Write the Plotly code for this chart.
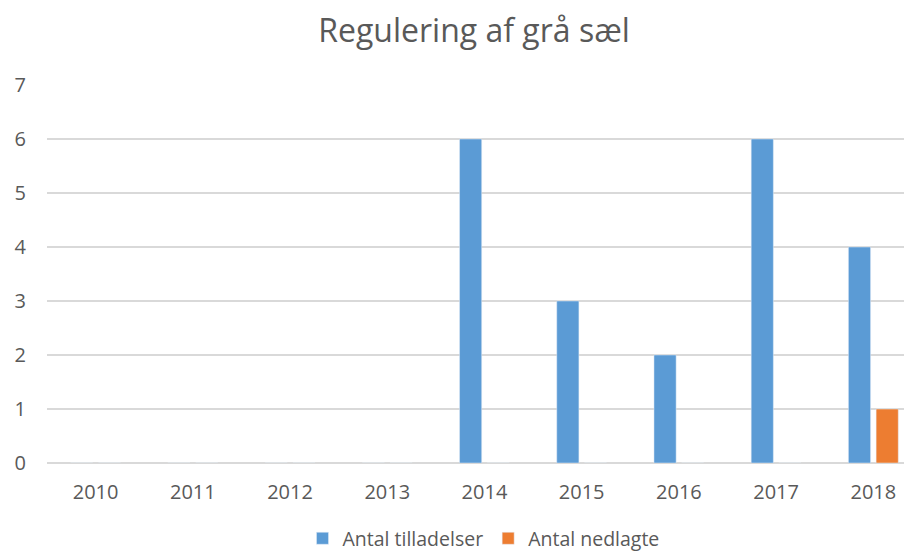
import plotly.graph_objects as go

years = ["2010", "2011", "2012", "2013", "2014", "2015", "2016", "2017", "2018"]
tilladelser = [0, 0, 0, 0, 6, 3, 2, 6, 4]
nedlagte = [0, 0, 0, 0, 0, 0, 0, 0, 1]

font = "'Open Sans', Lato, sans-serif"
grey = "#595959"

fig = go.Figure()
fig.add_trace(go.Bar(x=years, y=tilladelser, name="Antal tilladelser", marker_color="#5B9BD5"))
fig.add_trace(go.Bar(x=years, y=nedlagte, name="Antal nedlagte", marker_color="#ED7D31"))

fig.update_layout(
    width=912, height=558,
    paper_bgcolor="white", plot_bgcolor="white",
    margin=dict(l=39, r=0, t=77, b=103),
    barmode="group", bargap=0.43, bargroupgap=0.2,
    title=dict(text="Regulering af grå sæl", x=0.511, xanchor="center", y=0.96, yanchor="middle",
               font=dict(family=font, size=32, color=grey)),
    font=dict(family=font, color=grey, size=20),
    xaxis=dict(type="category", range=[-0.5, 8.48], showgrid=False, showline=False, ticks="",
               ticklabelstandoff=15, tickfont=dict(size=20, color=grey)),
    yaxis=dict(range=[0, 7], dtick=1, showgrid=True, gridcolor="#D9D9D9", gridwidth=1.5,
               zeroline=True, zerolinecolor="#D9D9D9", zerolinewidth=1.5, showline=False,
               ticks="", ticklabelstandoff=20, tickfont=dict(size=20, color=grey)),
    legend=dict(orientation="h", x=0.5, xanchor="center", y=-0.2, yanchor="middle",
                font=dict(size=19.5, color=grey), itemwidth=30),
    showlegend=True,
)

fig.write_html("out.html")
